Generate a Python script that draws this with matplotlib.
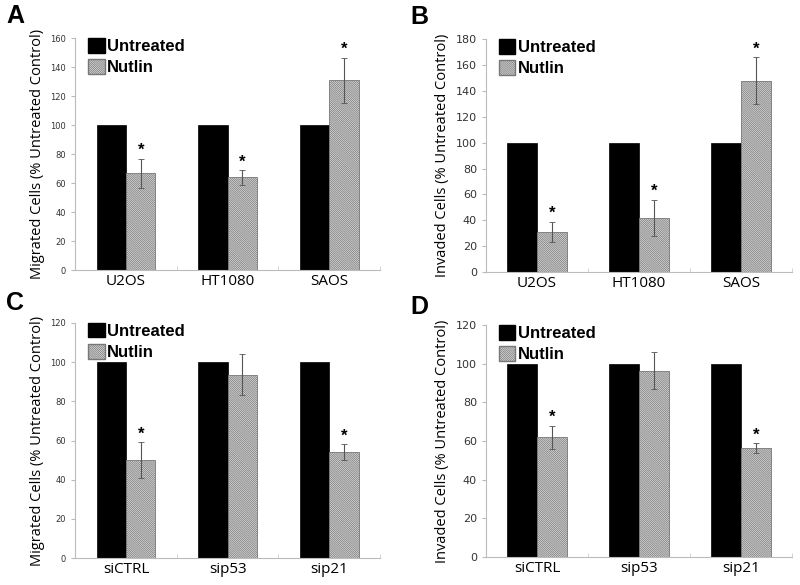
import numpy as np
import matplotlib
matplotlib.use("Agg")
import matplotlib.pyplot as plt
from matplotlib.patches import Patch

# ── data ─────────────────────────────────────────────
cells_ab = ["U2OS", "HT1080", "SAOS"]
cells_cd = ["siCTRL", "sip53", "sip21"]

untreated = [100, 100, 100]

nutlin_a = [67, 64, 131]
err_a = [10, 5, 15.5]
star_a = [True, True, True]

nutlin_b = [31, 42, 148]
err_b = [8, 14, 18]
star_b = [True, True, True]

nutlin_c = [50, 93.5, 54]
err_c = [9, 10.5, 4]
star_c = [True, False, True]

nutlin_d = [62, 96.5, 56.5]
err_d = [6, 9.5, 2.5]
star_d = [True, False, True]

plt.rcParams["hatch.linewidth"] = 0.5
plt.rcParams["hatch.color"] = "#555555"
HATCH = "\\" * 16

fig = plt.figure(figsize=(8, 5.85), dpi=100, facecolor="white")

panels = [
    ("A", [0.094, 0.538, 0.381, 0.397], cells_ab, nutlin_a, err_a, star_a,
     "Migrated Cells (% Untreated Control)", 160, 20, 6),
    ("B", [0.6075, 0.535, 0.3825, 0.398], cells_ab, nutlin_b, err_b, star_b,
     "Invaded Cells (% Untreated Control)", 180, 20, 8),
    ("C", [0.094, 0.046, 0.381, 0.402], cells_cd, nutlin_c, err_c, star_c,
     "Migrated Cells (% Untreated Control)", 120, 20, 6),
    ("D", [0.6075, 0.048, 0.3825, 0.396], cells_cd, nutlin_d, err_d, star_d,
     "Invaded Cells (% Untreated Control)", 120, 20, 8),
]

letter_pos = {"A": (0.008, 0.994), "B": (0.513, 0.992), "C": (0.008, 0.503), "D": (0.513, 0.496)}

w = 0.29
for letter, rect, cats, nut, err, stars, ylabel, ymax, step, tfs in panels:
    ax = fig.add_axes(rect)
    x = np.arange(len(cats))
    ax.bar(x - w / 2, untreated, w, color="black", edgecolor="black", linewidth=0.5, zorder=2)
    ax.bar(x + w / 2, nut, w, color="#dcdcdc", edgecolor="#777777", linewidth=0.6,
           hatch=HATCH, zorder=2)
    ax.errorbar(x + w / 2, nut, yerr=err, fmt="none", ecolor="#555555",
                elinewidth=0.8, capsize=2, capthick=0.6, zorder=3)
    for xi, v, e, s in zip(x, nut, err, stars):
        if s:
            ax.text(xi + w / 2, v + e + ymax * 0.003, "*", ha="center", va="bottom",
                    fontsize=12, fontweight="bold", family="Liberation Sans")

    ax.set_xlim(-0.5, len(cats) - 0.5)
    ax.set_ylim(0, ymax)
    ax.set_yticks(np.arange(0, ymax + 1, step))
    ax.set_xticks(x)
    ax.set_xticklabels(cats, fontsize=11, family="Open Sans")
    ax.set_xticks(np.arange(-0.5, len(cats)), minor=True)
    ax.tick_params(axis="x", which="major", length=0, pad=3)
    ax.tick_params(axis="x", which="minor", length=3, direction="in", color="#cccccc")
    ax.tick_params(axis="y", length=3, color="#bbbbbb", labelsize=tfs, labelcolor="#333333")
    for lab in ax.get_yticklabels():
        lab.set_family("DejaVu Sans")
    for sp in ["top", "right"]:
        ax.spines[sp].set_visible(False)
    for sp in ["left", "bottom"]:
        ax.spines[sp].set_color("#bbbbbb")
        ax.spines[sp].set_linewidth(0.8)
    ax.set_ylabel(ylabel, fontsize=10.5, family="Open Sans", labelpad=4)

    handles = [Patch(facecolor="black", edgecolor="black", label="Untreated"),
               Patch(facecolor="#dcdcdc", edgecolor="#777777", hatch=HATCH, label="Nutlin")]
    ax.legend(handles=handles, loc="upper left", bbox_to_anchor=(0.02, 1.03), frameon=False,
              prop={"family": "Liberation Sans", "weight": "bold", "size": 12},
              handlelength=1.0, handleheight=1.0, handletextpad=0.15, labelspacing=0.3,
              borderaxespad=0)

    fig.text(*letter_pos[letter], letter, fontsize=18, fontweight="bold",
             family="Liberation Sans", ha="left", va="top")

fig.savefig("out.png", dpi=100, facecolor="white")
